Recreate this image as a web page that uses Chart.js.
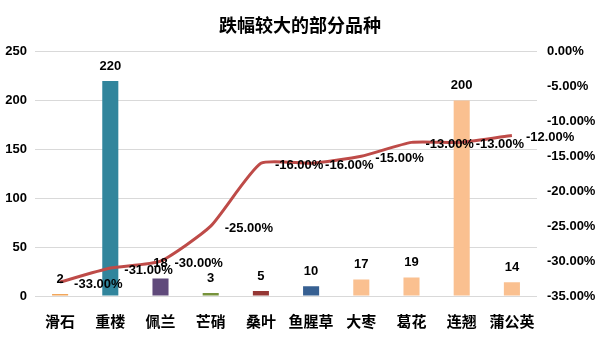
<!DOCTYPE html>
<html>
<head>
<meta charset="utf-8">
<script src="https://cdn.jsdelivr.net/npm/chart.js@4/dist/chart.umd.min.js"></script>
<style>
  html, body { margin: 0; padding: 0; background: #fff; }
  canvas { display: block; }
</style>
</head>
<body>
<canvas id="mainChart" width="600" height="344"></canvas>
<script>
// 跌幅较大的部分品种 - bar (count) + line (drop %)
const categories = ['滑石', '重楼', '佩兰', '芒硝', '桑叶', '鱼腥草', '大枣', '葛花', '连翘', '蒲公英'];
const barValues = [2, 220, 18, 3, 5, 10, 17, 19, 200, 14];
const dropPercent = [-33, -31, -30, -25, -16, -16, -15, -13, -13, -12];
const barColors = ['#F2A65A', '#31859C', '#604A7B', '#77933C', '#953735', '#376092', '#FAC090', '#FAC090', '#FAC090', '#FAC090'];

const numFont = 'bold 13px "Liberation Sans", Arial, sans-serif';

// draws the value labels (no datalabels plugin available offline)
const valueLabels = {
  id: 'valueLabels',
  afterDatasetsDraw(chart) {
    const ctx = chart.ctx;
    ctx.save();
    ctx.font = numFont;
    ctx.fillStyle = '#000';
    ctx.textBaseline = 'middle';
    chart.getDatasetMeta(1).data.forEach((bar, i) => {
      ctx.textAlign = 'center';
      ctx.fillText(String(barValues[i]), bar.x, bar.y - 15);
    });
    chart.getDatasetMeta(0).data.forEach((pt, i) => {
      ctx.textAlign = 'left';
      ctx.fillText(dropPercent[i].toFixed(2) + '%', pt.x + 14, pt.y + 2);
    });
    ctx.restore();
  }
};

new Chart(document.getElementById('mainChart').getContext('2d'), {
  data: {
    labels: categories,
    datasets: [
      {
        type: 'line',
        data: dropPercent,
        yAxisID: 'y1',
        borderColor: '#BE4B48',
        borderWidth: 3,
        tension: 0.18,
        pointRadius: 0,
        order: 0
      },
      {
        type: 'bar',
        data: barValues,
        yAxisID: 'y',
        backgroundColor: barColors,
        barPercentage: 0.32,
        categoryPercentage: 1,
        order: 1
      }
    ]
  },
  options: {
    responsive: false,
    animation: false,
    layout: { padding: { top: 8, left: 0, right: 0, bottom: 0 } },
    plugins: {
      legend: { display: false },
      tooltip: { enabled: false },
      title: {
        display: true,
        text: '跌幅较大的部分品种',
        color: '#000',
        font: { family: '"Noto Sans CJK SC"', size: 18, weight: 'bold' },
        padding: { top: 6, bottom: 16 }
      }
    },
    scales: {
      x: {
        grid: { display: false },
        border: { display: false },
        ticks: {
          color: '#000',
          padding: 8,
          maxRotation: 0,
          minRotation: 0,
          autoSkip: false,
          font: { family: '"Noto Sans CJK SC"', size: 15, weight: 'bold' }
        },
        afterFit(s) { s.height = 48; }
      },
      y: {
        position: 'left',
        min: 0,
        max: 250,
        ticks: {
          stepSize: 50,
          color: '#000',
          padding: 8,
          font: { family: '"Liberation Sans"', size: 13, weight: 'bold' }
        },
        grid: { color: '#D9D9D9', drawTicks: false },
        border: { display: false },
        afterFit(s) { s.width = 35; }
      },
      y1: {
        position: 'right',
        min: -35,
        max: 0,
        ticks: {
          stepSize: 5,
          color: '#000',
          padding: 10,
          font: { family: '"Liberation Sans"', size: 13, weight: 'bold' },
          callback: v => v.toFixed(2) + '%'
        },
        grid: { drawOnChartArea: false, drawTicks: false },
        border: { display: false },
        afterFit(s) { s.width = 63; }
      }
    }
  },
  plugins: [valueLabels]
});
</script>
</body>
</html>
